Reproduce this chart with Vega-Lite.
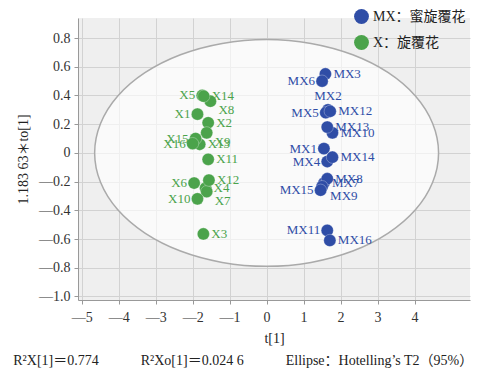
{
  "$schema": "https://vega.github.io/schema/vega-lite/v6.json",
  "width": 392,
  "height": 282,
  "autosize": "none",
  "padding": {"left": 78, "top": 18, "right": 26, "bottom": 77},
  "background": "white",
  "config": {
    "view": {"fill": "#efefef", "stroke": null},
    "font": "Liberation Serif",
    "axis": {
      "domainColor": "#999999",
      "tickColor": "#999999",
      "tickSize": 4,
      "gridColor": "#d2d2d2",
      "gridWidth": 1,
      "labelFont": "Liberation Serif",
      "labelFontSize": 14,
      "labelColor": "#333333",
      "labelOverlap": false,
      "titleFont": "Liberation Serif, Noto Sans CJK SC",
      "titleFontSize": 14,
      "titleFontWeight": "normal",
      "titleColor": "#222222"
    }
  },
  "datasets": {
    "ellipse": [
      {"i": 0, "x": 4.65, "y": 0},
      {"i": 1, "x": 4.49, "y": 0.205},
      {"i": 2, "x": 4.03, "y": 0.395},
      {"i": 3, "x": 3.29, "y": 0.559},
      {"i": 4, "x": 2.33, "y": 0.684},
      {"i": 5, "x": 1.2, "y": 0.763},
      {"i": 6, "x": 0, "y": 0.79},
      {"i": 7, "x": -1.2, "y": 0.763},
      {"i": 8, "x": -2.33, "y": 0.684},
      {"i": 9, "x": -3.29, "y": 0.559},
      {"i": 10, "x": -4.03, "y": 0.395},
      {"i": 11, "x": -4.49, "y": 0.205},
      {"i": 12, "x": -4.65, "y": 0},
      {"i": 13, "x": -4.49, "y": -0.205},
      {"i": 14, "x": -4.03, "y": -0.395},
      {"i": 15, "x": -3.29, "y": -0.559},
      {"i": 16, "x": -2.33, "y": -0.684},
      {"i": 17, "x": -1.2, "y": -0.763},
      {"i": 18, "x": 0, "y": -0.79},
      {"i": 19, "x": 1.2, "y": -0.763},
      {"i": 20, "x": 2.33, "y": -0.684},
      {"i": 21, "x": 3.29, "y": -0.559},
      {"i": 22, "x": 4.03, "y": -0.395},
      {"i": 23, "x": 4.49, "y": -0.205}
    ],
    "pts": [
      {"id": "X1", "group": "X：旋覆花", "x": -1.87, "y": 0.27},
      {"id": "X2", "group": "X：旋覆花", "x": -1.58, "y": 0.21},
      {"id": "X3", "group": "X：旋覆花", "x": -1.71, "y": -0.565},
      {"id": "X4", "group": "X：旋覆花", "x": -1.65, "y": -0.245},
      {"id": "X5", "group": "X：旋覆花", "x": -1.74, "y": 0.4},
      {"id": "X6", "group": "X：旋覆花", "x": -1.96, "y": -0.21},
      {"id": "X7", "group": "X：旋覆花", "x": -1.62, "y": -0.27},
      {"id": "X8", "group": "X：旋覆花", "x": -1.52, "y": 0.36},
      {"id": "X9", "group": "X：旋覆花", "x": -1.62, "y": 0.14},
      {"id": "X10", "group": "X：旋覆花", "x": -1.87, "y": -0.32},
      {"id": "X11", "group": "X：旋覆花", "x": -1.58, "y": -0.045},
      {"id": "X12", "group": "X：旋覆花", "x": -1.56, "y": -0.19},
      {"id": "X13", "group": "X：旋覆花", "x": -1.81, "y": 0.06},
      {"id": "X14", "group": "X：旋覆花", "x": -1.7, "y": 0.395},
      {"id": "X15", "group": "X：旋覆花", "x": -1.92, "y": 0.1},
      {"id": "X16", "group": "X：旋覆花", "x": -2.0, "y": 0.065},
      {"id": "MX1", "group": "MX：蜜旋覆花", "x": 1.55, "y": 0.03},
      {"id": "MX2", "group": "MX：蜜旋覆花", "x": 1.66, "y": 0.3},
      {"id": "MX3", "group": "MX：蜜旋覆花", "x": 1.59, "y": 0.55},
      {"id": "MX4", "group": "MX：蜜旋覆花", "x": 1.64, "y": -0.06},
      {"id": "MX5", "group": "MX：蜜旋覆花", "x": 1.6, "y": 0.28},
      {"id": "MX6", "group": "MX：蜜旋覆花", "x": 1.5, "y": 0.5},
      {"id": "MX7", "group": "MX：蜜旋覆花", "x": 1.55, "y": -0.21},
      {"id": "MX8", "group": "MX：蜜旋覆花", "x": 1.64, "y": -0.18},
      {"id": "MX9", "group": "MX：蜜旋覆花", "x": 1.5, "y": -0.235},
      {"id": "MX10", "group": "MX：蜜旋覆花", "x": 1.78, "y": 0.14},
      {"id": "MX11", "group": "MX：蜜旋覆花", "x": 1.64, "y": -0.54},
      {"id": "MX12", "group": "MX：蜜旋覆花", "x": 1.72, "y": 0.29},
      {"id": "MX13", "group": "MX：蜜旋覆花", "x": 1.64, "y": 0.18},
      {"id": "MX14", "group": "MX：蜜旋覆花", "x": 1.78, "y": -0.03},
      {"id": "MX15", "group": "MX：蜜旋覆花", "x": 1.46, "y": -0.26},
      {"id": "MX16", "group": "MX：蜜旋覆花", "x": 1.71, "y": -0.61}
    ]
  },
  "title": {
    "text": "R²X[1]＝0.774\u3000\u3000\u3000R²Xo[1]＝0.024 6\u3000\u3000\u3000Ellipse：Hotelling’s T2（95%）",
    "orient": "bottom",
    "anchor": "middle",
    "frame": "bounds",
    "font": "Liberation Serif, Noto Sans CJK SC",
    "fontSize": 14,
    "fontWeight": "normal",
    "color": "#222222",
    "offset": 9
  },
  "layer": [
    {
      "data": {"name": "ellipse"},
      "mark": {"type": "line", "interpolate": "cardinal-closed", "fill": "white", "fillOpacity": 0.65, "stroke": "#aaaaaa", "strokeWidth": 1.5},
      "encoding": {
        "x": {
          "field": "x", "type": "quantitative",
          "scale": {"domain": [-5.1, 5.5], "nice": false, "zero": false},
          "axis": {
            "title": "t[1]",
            "values": [-5, -4, -3, -2, -1, 0, 1, 2, 3, 4],
            "tickCount": 20,
            "labelExpr": "replace(replace(format(datum.value, 'd'), '−', '—'), '-', '—')",
            "labelFont": "Liberation Serif",
            "labelOverlap": false,
            "labelPadding": 6,
            "titlePadding": 7
          }
        },
        "y": {
          "field": "y", "type": "quantitative",
          "scale": {"domain": [-1.025, 0.94], "nice": false, "zero": false},
          "axis": {
            "title": "1.183 63＊to[1]",
            "values": [-1, -0.8, -0.6, -0.4, -0.2, 0, 0.2, 0.4, 0.6, 0.8],
            "tickCount": 20,
            "labelExpr": "datum.value == 0 ? '0' : replace(replace(format(datum.value, '.1f'), '−', '—'), '-', '—')",
            "labelFont": "Liberation Serif",
            "labelOverlap": false,
            "labelBound": false,
            "labelPadding": 4,
            "titlePadding": 8
          }
        },
        "order": {"field": "i", "type": "quantitative"}
      }
    },
    {
      "mark": {"type": "rule", "color": "#999999", "strokeWidth": 1},
      "encoding": {"x": {"datum": 0}}
    },
    {
      "mark": {"type": "rule", "color": "#999999", "strokeWidth": 1},
      "encoding": {"y": {"datum": 0}}
    },
    {
      "mark": {"type": "point", "shape": "triangle-right", "filled": true, "color": "#999999", "size": 45, "opacity": 1},
      "encoding": {"x": {"datum": 5.5}, "y": {"datum": -1.025}}
    },
    {
      "mark": {"type": "point", "shape": "triangle-up", "filled": true, "color": "#999999", "size": 45, "opacity": 1},
      "encoding": {"x": {"datum": -5.1}, "y": {"datum": 0.94}}
    },
    {
      "data": {"name": "pts"},
      "mark": {"type": "circle", "size": 150, "opacity": 1, "stroke": "#ffffff", "strokeWidth": 0.3},
      "encoding": {
        "x": {"field": "x", "type": "quantitative", "title": "t[1]"},
        "y": {"field": "y", "type": "quantitative", "title": "1.183 63＊to[1]"},
        "color": {
          "field": "group", "type": "nominal",
          "scale": {"domain": ["MX：蜜旋覆花", "X：旋覆花"], "range": ["#2F4DA6", "#4BA34B"]},
          "legend": {
            "orient": "none", "legendX": 276, "legendY": -9, "title": null,
            "symbolType": "circle", "symbolSize": 220, "symbolOpacity": 1, "symbolStrokeWidth": 0,
            "labelFont": "Liberation Serif, Noto Sans CJK SC", "labelFontSize": 14, "labelColor": "#222222",
            "rowPadding": 11, "padding": 0, "labelOffset": 4
          }
        }
      }
    },
    {
      "data": {"name": "pts"},
      "transform": [{"filter": {"field": "id", "oneOf": ["X14", "X2", "X13", "X11", "X12", "X4", "X3", "MX3", "MX12", "MX13", "MX10", "MX14", "MX8", "MX7", "MX16"]}}],
      "mark": {"type": "text", "align": "left", "baseline": "middle", "dx": 8, "font": "Liberation Serif", "fontSize": 13},
      "encoding": {
        "x": {"field": "x", "type": "quantitative", "title": "t[1]"},
        "y": {"field": "y", "type": "quantitative", "title": "1.183 63＊to[1]"},
        "text": {"field": "id"},
        "color": {"field": "group", "type": "nominal"}
      }
    },
    {
      "data": {"name": "pts"},
      "transform": [{"filter": {"field": "id", "oneOf": ["X8", "X7", "MX9", "X9"]}}],
      "mark": {"type": "text", "align": "left", "baseline": "middle", "dx": 8, "dy": 9, "font": "Liberation Serif", "fontSize": 13},
      "encoding": {
        "x": {"field": "x", "type": "quantitative", "title": "t[1]"},
        "y": {"field": "y", "type": "quantitative", "title": "1.183 63＊to[1]"},
        "text": {"field": "id"},
        "color": {"field": "group", "type": "nominal"}
      }
    },
    {
      "data": {"name": "pts"},
      "transform": [{"filter": {"field": "id", "oneOf": ["X5", "X1", "X15", "X16", "X6", "X10", "MX6", "MX5", "MX1", "MX4", "MX15", "MX11"]}}],
      "mark": {"type": "text", "align": "right", "baseline": "middle", "dx": -7, "font": "Liberation Serif", "fontSize": 13},
      "encoding": {
        "x": {"field": "x", "type": "quantitative", "title": "t[1]"},
        "y": {"field": "y", "type": "quantitative", "title": "1.183 63＊to[1]"},
        "text": {"field": "id"},
        "color": {"field": "group", "type": "nominal"}
      }
    },
    {
      "data": {"name": "pts"},
      "transform": [{"filter": {"field": "id", "oneOf": ["MX2"]}}],
      "mark": {"type": "text", "align": "center", "baseline": "middle", "dy": -14, "font": "Liberation Serif", "fontSize": 13},
      "encoding": {
        "x": {"field": "x", "type": "quantitative", "title": "t[1]"},
        "y": {"field": "y", "type": "quantitative", "title": "1.183 63＊to[1]"},
        "text": {"field": "id"},
        "color": {"field": "group", "type": "nominal"}
      }
    }
  ]
}
